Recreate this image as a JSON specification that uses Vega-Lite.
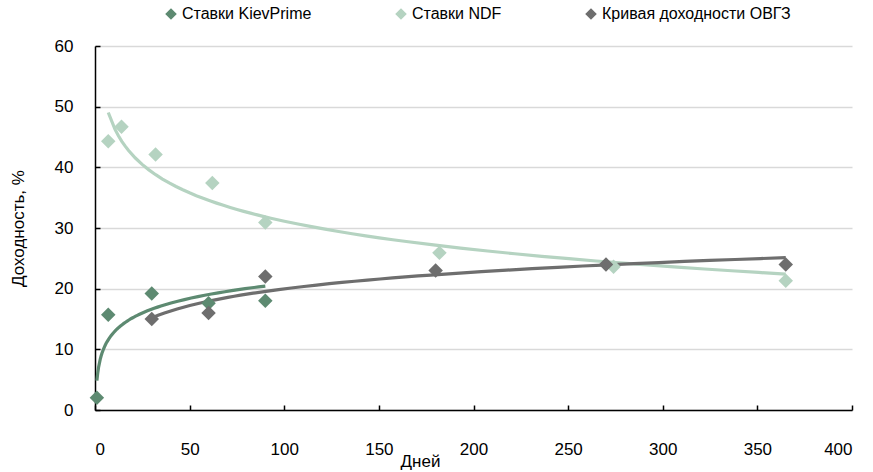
{
  "$schema": "https://vega.github.io/schema/vega-lite/v6.json",
  "width": 757,
  "height": 364,
  "autosize": {"type": "none"},
  "padding": {"left": 95, "top": 46, "right": 21, "bottom": 62},
  "background": "white",
  "config": {
    "font": "Liberation Sans",
    "view": {"stroke": null},
    "axis": {
      "labelFont": "Liberation Sans",
      "titleFont": "Liberation Sans",
      "labelFontSize": 17,
      "titleFontSize": 17,
      "labelColor": "#000000",
      "titleColor": "#000000",
      "titleFontWeight": "normal",
      "domainColor": "#000000",
      "domainWidth": 1.5,
      "tickColor": "#000000",
      "tickWidth": 1.5,
      "tickSize": -5
    },
    "legend": {
      "labelFont": "Liberation Sans",
      "labelFontSize": 16,
      "labelColor": "#000000",
      "labelLimit": 400
    }
  },
  "data": {
    "values": [
      {"series": "Ставки KievPrime", "days": 1, "value": 2},
      {"series": "Ставки KievPrime", "days": 7, "value": 15.7},
      {"series": "Ставки KievPrime", "days": 30, "value": 19.2},
      {"series": "Ставки KievPrime", "days": 60, "value": 17.6},
      {"series": "Ставки KievPrime", "days": 90, "value": 18},
      {"series": "Ставки NDF", "days": 7, "value": 44.3},
      {"series": "Ставки NDF", "days": 14, "value": 46.7},
      {"series": "Ставки NDF", "days": 32, "value": 42.1},
      {"series": "Ставки NDF", "days": 62, "value": 37.4},
      {"series": "Ставки NDF", "days": 90, "value": 30.9},
      {"series": "Ставки NDF", "days": 182, "value": 25.9},
      {"series": "Ставки NDF", "days": 274, "value": 23.6},
      {"series": "Ставки NDF", "days": 365, "value": 21.3},
      {"series": "Кривая доходности ОВГЗ", "days": 30, "value": 15},
      {"series": "Кривая доходности ОВГЗ", "days": 60, "value": 16},
      {"series": "Кривая доходности ОВГЗ", "days": 90, "value": 22},
      {"series": "Кривая доходности ОВГЗ", "days": 180, "value": 23},
      {"series": "Кривая доходности ОВГЗ", "days": 270, "value": 24},
      {"series": "Кривая доходности ОВГЗ", "days": 365, "value": 24}
    ]
  },
  "layer": [
    {
      "transform": [
        {"regression": "value", "on": "days", "groupby": ["series"], "method": "log"}
      ],
      "mark": {"type": "line", "strokeWidth": 3.2},
      "encoding": {
        "x": {"field": "days", "type": "quantitative"},
        "y": {"field": "value", "type": "quantitative"},
        "color": {"field": "series", "type": "nominal",
          "scale": {"domain": ["Ставки KievPrime", "Ставки NDF", "Кривая доходности ОВГЗ"], "range": ["#5d8a71", "#b5d3c1", "#6e6e6e"]},
          "legend": {"title": null, "orient": "none", "direction": "horizontal", "legendX": 68, "legendY": -40, "symbolType": "diamond", "symbolSize": 90, "columnPadding": 81, "labelOffset": 3}},
        "detail": {"field": "series"}
      }
    },
    {
      "mark": {"type": "point", "shape": "diamond", "filled": true, "size": 210, "opacity": 1},
      "encoding": {
        "x": {"field": "days", "type": "quantitative",
          "scale": {"domain": [0, 400], "nice": false},
          "axis": {"values": [0, 50, 100, 150, 200, 250, 300, 350, 400], "grid": false, "title": "Дней", "labelPadding": 36, "titleX": 325, "titleY": 43, "titleBaseline": "top", "titleAnchor": null}},
        "y": {"field": "value", "type": "quantitative",
          "scale": {"domain": [0, 60], "nice": false},
          "axis": {"values": [0, 10, 20, 30, 40, 50, 60], "grid": true, "gridColor": "#d9d9d9", "gridWidth": 1.5, "title": "Доходность, %", "labelPadding": 27, "titlePadding": 27}},
        "color": {"field": "series", "type": "nominal",
          "scale": {"domain": ["Ставки KievPrime", "Ставки NDF", "Кривая доходности ОВГЗ"], "range": ["#5d8a71", "#b5d3c1", "#6e6e6e"]},
          "legend": {"title": null, "orient": "none", "direction": "horizontal", "legendX": 68, "legendY": -40, "symbolType": "diamond", "symbolSize": 90, "columnPadding": 81, "labelOffset": 3}}
      }
    }
  ]
}
